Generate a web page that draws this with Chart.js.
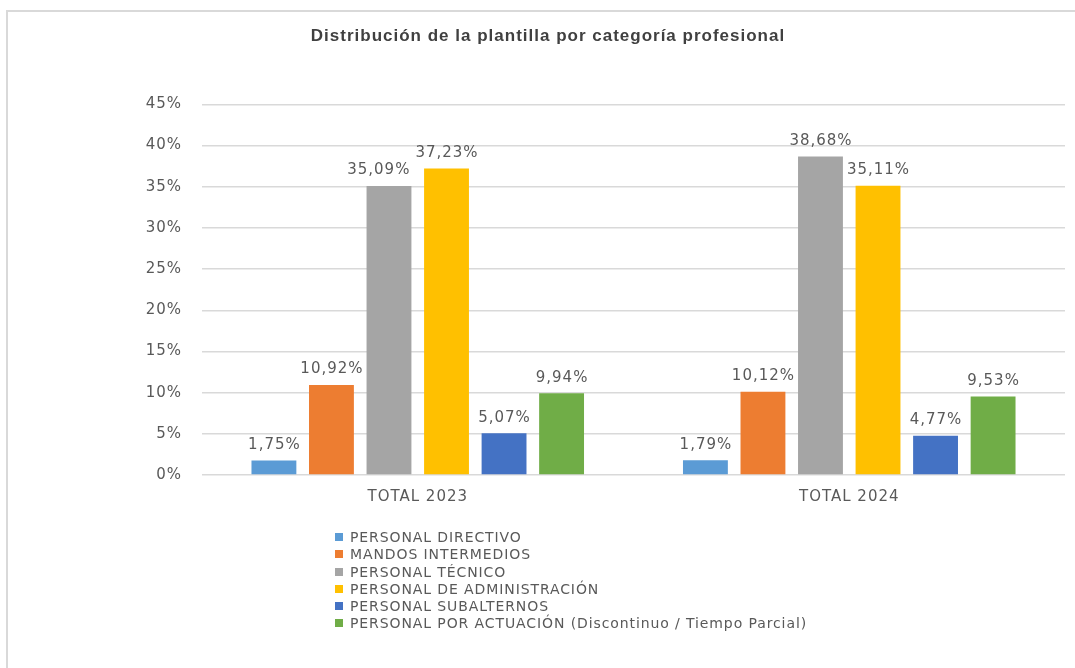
<!DOCTYPE html>
<html>
<head>
<meta charset="utf-8">
<script src="https://cdn.jsdelivr.net/npm/chart.js@4.4.1/dist/chart.umd.min.js"></script>
<style>
  html, body { margin: 0; padding: 0; background: #fff; overflow: hidden; }
  #wrap { position: absolute; left: 0; top: 0; width: 1075px; height: 668px; }
  #legend { position: absolute; left: 335px; top: 529px; font-family: "DejaVu Sans", Verdana, sans-serif;
            font-size: 14px; letter-spacing: 0.9px; color: #595959; }
  #legend div { height: 17.3px; line-height: 17.3px; white-space: nowrap; }
  #legend span.box { display: inline-block; width: 8px; height: 8px; margin-right: 7px; vertical-align: 1px; }
</style>
</head>
<body>
<div id="wrap"><canvas id="graphCanvas"></canvas></div>
<div id="legend"></div>
<script>
var categorias = ["TOTAL 2023", "TOTAL 2024"];
var series = ["PERSONAL DIRECTIVO", "MANDOS INTERMEDIOS", "PERSONAL TÉCNICO", "PERSONAL DE ADMINISTRACIÓN",
              "PERSONAL SUBALTERNOS", "PERSONAL POR ACTUACIÓN (Discontinuo / Tiempo Parcial)"];
var directivo = [1.75, 1.79];
var intermedios = [10.92, 10.12];
var tecnico = [35.09, 38.68];
var administracion = [37.23, 35.11];
var subalternos = [5.07, 4.77];
var actuacion = [9.94, 9.53];
var colores = ["#5B9BD5", "#ED7D31", "#A5A5A5", "#FFC000", "#4472C4", "#70AD47"];
var valores = [directivo, intermedios, tecnico, administracion, subalternos, actuacion];

var fuente = "'DejaVu Sans', Verdana, sans-serif";

// marco gris (solo arriba e izquierda) y espaciado de letras
var marco = {
  id: "marco",
  beforeDraw: function(chart) {
    var ctx = chart.ctx;
    ctx.save();
    ctx.fillStyle = "#d9d9d9";
    ctx.fillRect(6, 10, chart.width - 6, 2);
    ctx.fillRect(6, 10, 2, chart.height - 10);
    ctx.restore();
    ctx.letterSpacing = "1px";
  }
};

// etiquetas de valor encima de cada barra (la mas baja se aparta si se solapan)
var etiquetas = {
  id: "etiquetas",
  afterDatasetsDraw: function(chart) {
    var ctx = chart.ctx;
    ctx.save();
    ctx.letterSpacing = "1px";
    ctx.font = "15px " + fuente;
    ctx.fillStyle = "#595959";
    ctx.textAlign = "center";
    ctx.textBaseline = "bottom";
    var n = chart.data.datasets.length;
    chart.data.labels.forEach(function(c, j) {
      var items = [];
      for (var i = 0; i < n; i++) {
        var bar = chart.getDatasetMeta(i).data[j];
        var v = chart.data.datasets[i].data[j];
        var txt = v.toFixed(2).replace(".", ",") + "%";
        items.push({ txt: txt, v: v, x: bar.x + 0.5, y: bar.y - 8, w: ctx.measureText(txt).width });
      }
      for (var k = 0; k < n - 1; k++) {
        var a = items[k], b = items[k + 1];
        var solape = (a.x + a.w / 2) - (b.x - b.w / 2) + 5;
        if (solape > 0 && Math.abs(a.y - b.y) < 18) {
          if (a.v < b.v) a.x -= solape; else b.x += solape;
        }
      }
      items.forEach(function(it) { ctx.fillText(it.txt, it.x, it.y); });
    });
    ctx.restore();
  }
};

var datasets = [];
for (var i = 0; i < series.length; i++) {
  datasets.push({
    label: series[i],
    data: valores[i],
    backgroundColor: colores[i],
    borderWidth: 0,
    categoryPercentage: 0.8,
    barPercentage: 0.78
  });
}

var chart = new Chart(document.getElementById("graphCanvas"), {
  type: "bar",
  data: { labels: categorias, datasets: datasets },
  plugins: [marco, etiquetas],
  options: {
    responsive: true,
    maintainAspectRatio: false,
    animation: false,
    layout: { padding: { left: 31, right: 10, top: 0, bottom: 149 } },
    plugins: {
      legend: { display: false },
      tooltip: { enabled: false },
      title: {
        display: true,
        text: "Distribución de la plantilla por categoría profesional",
        color: "#404040",
        font: { family: "'Liberation Sans', Arial, sans-serif", size: 17, weight: "bold" },
        padding: { top: 26, bottom: 58 }
      }
    },
    scales: {
      x: {
        grid: { display: false, drawTicks: false },
        border: { display: false },
        ticks: { color: "#595959", font: { family: fuente, size: 15 }, padding: 13 }
      },
      y: {
        min: 0, max: 45,
        afterFit: function(s) { s.width = 171; },
        grid: { color: "#d9d9d9", lineWidth: 1.5, drawTicks: false },
        border: { display: false },
        ticks: {
          stepSize: 5, color: "#595959", padding: 20,
          font: { family: fuente, size: 15 },
          callback: function(v) { return v + "%"; }
        }
      }
    }
  }
});

var leg = document.getElementById("legend");
chart.data.datasets.forEach(function(ds) {
  var row = document.createElement("div");
  var box = document.createElement("span");
  box.className = "box";
  box.style.background = ds.backgroundColor;
  row.appendChild(box);
  row.appendChild(document.createTextNode(ds.label));
  leg.appendChild(row);
});
</script>
</body>
</html>
